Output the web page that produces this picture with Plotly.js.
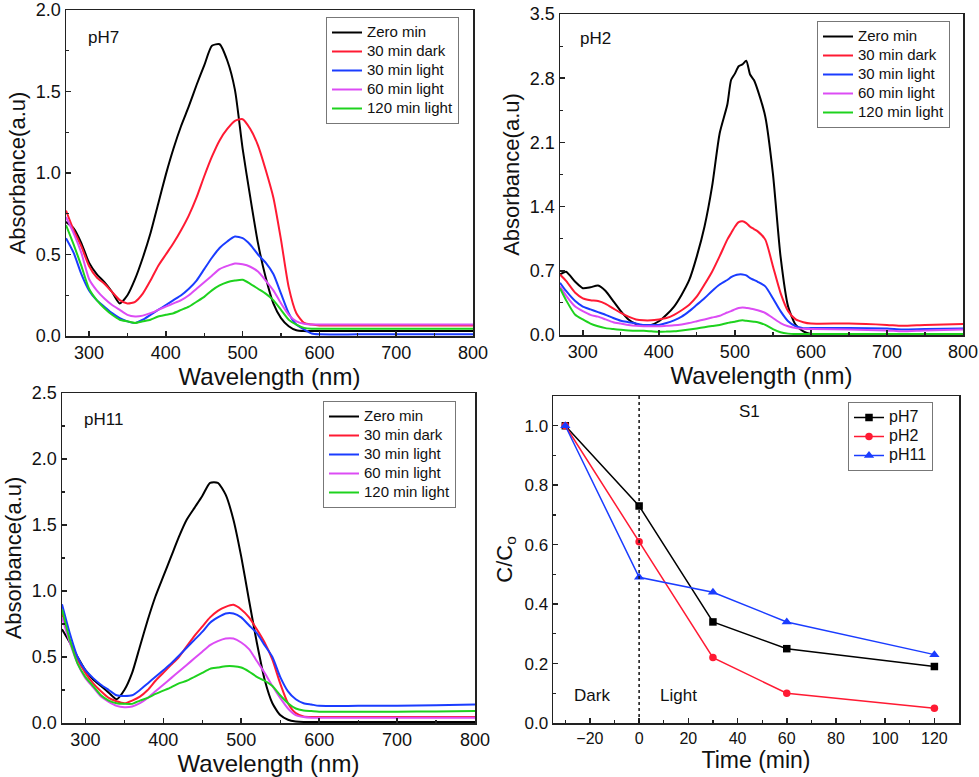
<!DOCTYPE html>
<html>
<head>
<meta charset="utf-8">
<script src="https://cdn.plot.ly/plotly-3.0.1.min.js"></script>
<style>html,body{margin:0;padding:0;background:#fff;}#chart{width:979px;height:777px;}</style>
</head>
<body>
<div id="chart"></div>
<script>
// ---------- DATA ----------
const seriesNames = ["Zero min", "30 min dark", "30 min light", "60 min light", "120 min light"];

// pH7 and pH11 share this wavelength grid (nm)
const wlGrid = [270,280,290,300,310,320,330,340,350,360,370,380,390,400,410,420,430,440,450,460,470,480,490,500,510,520,530,540,550,560,570,580,590,600,650,700,750,800];

const pH7_zero  = [0.70,0.66,0.57,0.45,0.38,0.33,0.27,0.20,0.25,0.35,0.48,0.63,0.81,0.99,1.15,1.29,1.41,1.54,1.66,1.78,1.79,1.69,1.51,1.15,0.85,0.57,0.36,0.20,0.11,0.06,0.035,0.03,0.03,0.03,0.03,0.03,0.03,0.03];
const pH7_dark  = [0.77,0.65,0.55,0.43,0.36,0.32,0.27,0.22,0.20,0.21,0.26,0.34,0.43,0.50,0.57,0.65,0.74,0.85,0.98,1.10,1.20,1.27,1.32,1.33,1.27,1.17,1.02,0.85,0.59,0.30,0.14,0.08,0.07,0.065,0.065,0.065,0.065,0.065];
const pH7_l30   = [0.60,0.51,0.38,0.28,0.22,0.18,0.14,0.11,0.09,0.08,0.10,0.13,0.16,0.19,0.22,0.25,0.29,0.34,0.41,0.48,0.54,0.58,0.61,0.60,0.56,0.50,0.45,0.38,0.26,0.14,0.07,0.04,0.015,0.01,0.01,0.01,0.01,0.01];
const pH7_l60   = [0.73,0.63,0.51,0.35,0.28,0.23,0.19,0.16,0.13,0.12,0.125,0.14,0.16,0.18,0.20,0.22,0.25,0.29,0.33,0.37,0.41,0.43,0.445,0.44,0.425,0.395,0.34,0.28,0.20,0.13,0.09,0.075,0.07,0.07,0.07,0.07,0.07,0.07];
const pH7_l120  = [0.68,0.56,0.43,0.29,0.22,0.17,0.13,0.10,0.09,0.08,0.09,0.10,0.12,0.13,0.14,0.16,0.18,0.21,0.24,0.28,0.31,0.33,0.34,0.345,0.32,0.29,0.26,0.22,0.16,0.10,0.07,0.05,0.045,0.045,0.045,0.045,0.045,0.045];

// pH2 wavelength grid (nm)
const wlPH2 = [270,278,290,300,310,320,330,340,350,360,370,380,390,400,410,420,430,440,450,460,470,480,490,495,500,505,510,515,520,525,530,540,550,560,570,580,590,600,650,700,720,750,800];
const pH2_zero = [0.66,0.69,0.58,0.51,0.52,0.54,0.48,0.37,0.26,0.17,0.12,0.10,0.11,0.15,0.22,0.31,0.44,0.60,0.86,1.18,1.62,2.20,2.51,2.78,2.85,2.93,2.95,2.99,2.84,2.78,2.67,2.38,1.76,0.86,0.31,0.11,0.04,0.01,0.005,0.005,0.005,0.005,0.005];
const pH2_dark = [0.66,0.59,0.46,0.40,0.38,0.37,0.34,0.29,0.24,0.20,0.17,0.16,0.16,0.17,0.185,0.22,0.27,0.33,0.42,0.55,0.69,0.86,1.04,1.11,1.18,1.23,1.24,1.22,1.18,1.155,1.13,1.04,0.75,0.46,0.26,0.17,0.14,0.125,0.125,0.11,0.10,0.11,0.12];
const pH2_l30  = [0.57,0.48,0.37,0.31,0.28,0.25,0.22,0.185,0.155,0.14,0.125,0.11,0.11,0.11,0.13,0.16,0.20,0.26,0.33,0.40,0.48,0.55,0.60,0.63,0.65,0.66,0.66,0.65,0.62,0.60,0.58,0.53,0.40,0.26,0.15,0.095,0.075,0.075,0.075,0.07,0.06,0.065,0.07];
const pH2_l60  = [0.53,0.43,0.31,0.26,0.22,0.20,0.17,0.14,0.125,0.11,0.10,0.095,0.095,0.095,0.10,0.105,0.115,0.13,0.15,0.17,0.19,0.21,0.245,0.26,0.28,0.295,0.30,0.295,0.29,0.28,0.27,0.24,0.185,0.13,0.095,0.075,0.068,0.065,0.06,0.05,0.04,0.05,0.06];
const pH2_l120 = [0.51,0.38,0.22,0.17,0.125,0.095,0.075,0.065,0.057,0.05,0.047,0.045,0.04,0.035,0.037,0.04,0.05,0.06,0.072,0.085,0.098,0.11,0.13,0.14,0.145,0.155,0.16,0.155,0.15,0.145,0.14,0.11,0.065,0.03,0.015,0.01,0.01,0.01,0.01,0.01,0.01,0.01,0.01];

const pH11_zero = [0.71,0.61,0.50,0.40,0.33,0.28,0.23,0.18,0.25,0.38,0.58,0.78,0.96,1.11,1.26,1.41,1.54,1.63,1.72,1.82,1.82,1.73,1.54,1.26,0.93,0.61,0.33,0.15,0.06,0.025,0.012,0.008,0.008,0.008,0.008,0.008,0.008,0.008];
const pH11_dark = [0.83,0.63,0.48,0.38,0.30,0.24,0.19,0.165,0.15,0.17,0.20,0.25,0.32,0.38,0.44,0.50,0.58,0.66,0.73,0.80,0.85,0.88,0.895,0.86,0.80,0.71,0.61,0.48,0.30,0.15,0.075,0.05,0.045,0.045,0.045,0.045,0.045,0.045];
const pH11_l30  = [0.90,0.68,0.50,0.40,0.34,0.29,0.25,0.21,0.205,0.21,0.25,0.30,0.35,0.40,0.45,0.51,0.57,0.63,0.69,0.76,0.80,0.83,0.83,0.80,0.74,0.68,0.59,0.50,0.35,0.24,0.18,0.15,0.14,0.13,0.13,0.13,0.135,0.14];
const pH11_l60  = [0.80,0.61,0.45,0.34,0.27,0.20,0.16,0.13,0.12,0.125,0.15,0.19,0.24,0.29,0.34,0.39,0.44,0.49,0.54,0.59,0.62,0.64,0.64,0.61,0.56,0.47,0.38,0.28,0.19,0.11,0.06,0.045,0.04,0.04,0.04,0.04,0.04,0.04];
const pH11_l120 = [0.86,0.63,0.45,0.35,0.28,0.21,0.17,0.15,0.145,0.145,0.17,0.19,0.22,0.245,0.27,0.30,0.32,0.35,0.38,0.41,0.42,0.43,0.43,0.42,0.39,0.35,0.32,0.28,0.21,0.15,0.11,0.095,0.09,0.085,0.085,0.085,0.088,0.09];

// Kinetics (C/Co vs time)
const timeMin = [-30, 0, 30, 60, 120];
const kin_pH7  = [1.0, 0.73, 0.34, 0.25, 0.19];
const kin_pH2  = [1.0, 0.61, 0.22, 0.10, 0.05];
const kin_pH11 = [1.0, 0.49, 0.44, 0.34, 0.23];
const kinNames = ["pH7", "pH2", "pH11"];

// ---------- STYLE ----------
const colors = ["#000000", "#ff1a33", "#1a3cff", "#dc4cf4", "#1ed21e"];
const FONT = "Liberation Sans, Arial, sans-serif";
const legName = (s, px) => '<span style="font-size:' + px + 'px">' + s + '</span>';

const traces = [];
function addSpectra(x, ys, xa, ya, leg) {
  ys.forEach((y, i) => {
    traces.push({
      type: "scatter", mode: "lines", x: x, y: y, name: legName(seriesNames[i], 15),
      xaxis: xa, yaxis: ya, legend: leg,
      line: {color: colors[i], width: 2, shape: "spline", smoothing: 0.6}
    });
  });
}
addSpectra(wlGrid, [pH7_zero, pH7_dark, pH7_l30, pH7_l60, pH7_l120], "x", "y", "legend");
addSpectra(wlPH2, [pH2_zero, pH2_dark, pH2_l30, pH2_l60, pH2_l120], "x2", "y2", "legend2");
addSpectra(wlGrid, [pH11_zero, pH11_dark, pH11_l30, pH11_l60, pH11_l120], "x3", "y3", "legend3");

const kinData = [kin_pH7, kin_pH2, kin_pH11];
const kinColors = ["#000000", "#ff1a33", "#1a3cff"];
const kinSymbols = ["square", "circle", "triangle-up"];
kinData.forEach((y, i) => {
  traces.push({
    type: "scatter", mode: "lines+markers", x: timeMin, y: y, name: legName(kinNames[i], 16),
    xaxis: "x4", yaxis: "y4", legend: "legend4",
    line: {color: kinColors[i], width: 1.5},
    marker: {color: kinColors[i], symbol: kinSymbols[i], size: i === 2 ? 9 : 7.5}
  });
});

function baseAx(domain, range, dtick, title, anchor, tickSize, titleSize, standoff) {
  return {
    domain: domain, range: range, anchor: anchor, dtick: dtick, tick0: 0,
    showline: true, mirror: true, linecolor: "#222", linewidth: 1.5,
    ticks: "inside", ticklen: 5, tickwidth: 1.5, tickcolor: "#222",
    minor: {ticks: "inside", ticklen: 3, tickwidth: 1.2, tickcolor: "#222", dtick: dtick / 2, tick0: 0, showgrid: false},
    showgrid: false, zeroline: false,
    tickfont: {family: FONT, size: tickSize, color: "#111"},
    title: {text: title, font: {family: FONT, size: titleSize, color: "#111"}, standoff: standoff},
    automargin: false
  };
}

const W = 979, H = 777;
const dx = (a, b) => [a / W, b / W];
const dy = (top, bottom) => [1 - bottom / H, 1 - top / H];

const legBase = {
  bgcolor: "#ffffff", bordercolor: "#777", borderwidth: 1,
  font: {family: FONT, size: 11, color: "#111"},
  xanchor: "left", yanchor: "top", tracegroupgap: 0, itemwidth: 30
};

const yA1 = baseAx(dy(10, 336), [0, 2.0], 0.5, "Absorbance(a.u)", "x", 18, 22, 4); yA1.tickformat = ".1f";
const yA2 = baseAx(dy(14, 335), [0, 3.5], 0.7, "Absorbance(a.u)", "x2", 18, 22, 4); yA2.tickformat = ".1f";
const yA3 = baseAx(dy(393, 723), [0, 2.5], 0.5, "Absorbance(a.u)", "x3", 18, 22, 4); yA3.tickformat = ".1f";
const yA4 = baseAx(dy(396, 723), [0, 1.1], 0.2, "C/C<sub>o</sub>", "x4", 17, 22, 6); yA4.tickformat = ".1f";

const layout = {
  width: W, height: H,
  margin: {l: 0, r: 0, t: 0, b: 0},
  paper_bgcolor: "#fff", plot_bgcolor: "#fff",
  font: {family: FONT, color: "#111"},
  xaxis: baseAx(dx(66, 473), [270, 800], 100, "Wavelength (nm)", "y", 18, 24, 2),
  yaxis: yA1,
  xaxis2: baseAx(dx(560, 963), [270, 800], 100, "Wavelength (nm)", "y2", 18, 24, 2),
  yaxis2: yA2,
  xaxis3: baseAx(dx(62, 475), [270, 800], 100, "Wavelength (nm)", "y3", 18, 24, 2),
  yaxis3: yA3,
  xaxis4: baseAx(dx(553, 959), [-35, 130], 20, "Time (min)", "y4", 16, 23, 2),
  yaxis4: yA4,
  legend:  Object.assign({}, legBase, {x: 326 / W, y: 1 - 17 / H}),
  legend2: Object.assign({}, legBase, {x: 817 / W, y: 1 - 21 / H}),
  legend3: Object.assign({}, legBase, {x: 323 / W, y: 1 - 401 / H}),
  legend4: Object.assign({}, legBase, {x: 848 / W, y: 1 - 402 / H}),
  shapes: [{
    type: "line", xref: "x4", yref: "y4 domain", x0: 0, x1: 0, y0: 0, y1: 1,
    line: {color: "#111", width: 1.5, dash: "dot"}
  }],
  annotations: [
    {text: "pH7", xref: "x", yref: "y", x: 296, y: 1.83, xanchor: "left", yanchor: "middle", showarrow: false, font: {family: FONT, size: 17, color: "#111"}},
    {text: "pH2", xref: "x2", yref: "y2", x: 294, y: 3.23, xanchor: "left", yanchor: "middle", showarrow: false, font: {family: FONT, size: 17, color: "#111"}},
    {text: "pH11", xref: "x3", yref: "y3", x: 296, y: 2.30, xanchor: "left", yanchor: "middle", showarrow: false, font: {family: FONT, size: 17, color: "#111"}},
    {text: "S1", xref: "x4", yref: "y4", x: 45, y: 1.047, showarrow: false, font: {family: FONT, size: 17, color: "#111"}},
    {text: "Dark", xref: "x4", yref: "y4", x: -19, y: 0.094, showarrow: false, font: {family: FONT, size: 17, color: "#111"}},
    {text: "Light", xref: "x4", yref: "y4", x: 16, y: 0.094, showarrow: false, font: {family: FONT, size: 17, color: "#111"}}
  ]
};

Plotly.newPlot("chart", traces, layout, {staticPlot: true, displayModeBar: false});
</script>
</body>
</html>
